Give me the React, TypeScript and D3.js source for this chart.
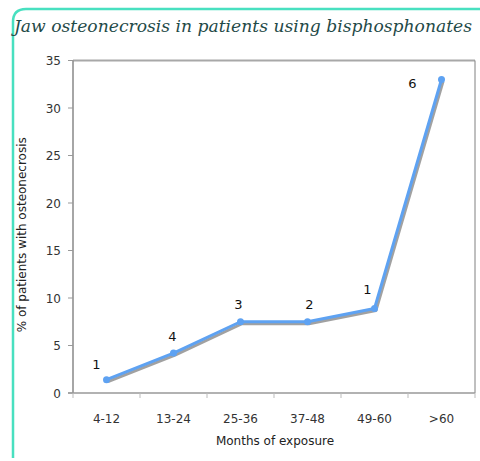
import React from "react";
import * as d3 from "d3";

const categories = ["4-12", "13-24", "25-36", "37-48", "49-60", ">60"];
const percentValues = [1.4, 4.2, 7.5, 7.5, 8.9, 33];
const caseCounts = ["1", "4", "3", "2", "1", "6"];
const yTicks = [0, 5, 10, 15, 20, 25, 30, 35];

const W = 480;
const H = 461;
const M = { left: 73, right: 475, top: 60.5, bottom: 393 };
// label offsets relative to each point (layout only)
const labelDx = [-10, -1, -2, 2, -7, -29];
const labelDy = [-11, -12, -13, -13, -14, 8];

export default function App() {
  const x = d3.scaleBand<string>().domain(categories).range([M.left, M.right]);
  const y = d3.scaleLinear().domain([0, 35]).range([M.bottom, M.top]);
  const pts = categories.map((c, i) => [x(c)! + x.bandwidth() / 2, y(percentValues[i])] as [number, number]);
  const line = d3.line();
  const font = "'DejaVu Sans', Verdana, sans-serif";
  const boundaries = categories.map((c) => x(c)!).concat([M.right]);

  return (
    <svg width={W} height={H} style={{ position: "absolute", left: 0, top: 0, background: "#fff" }}>
      <path d={`M13,458 L13,22 Q13,9 26,9 L480,9`} fill="none" stroke="#48e0c0" strokeWidth={2.5} />
      <text
        x={14}
        y={32}
        textLength={458}
        lengthAdjust="spacingAndGlyphs"
        fontFamily="'DejaVu Serif', 'Liberation Serif', serif"
        fontStyle="italic"
        fontSize={16}
        fill="#1f4a48"
      >
        Jaw osteonecrosis in patients using bisphosphonates
      </text>

      {/* plot frame */}
      <line x1={M.left} x2={M.right} y1={M.top} y2={M.top} stroke="#a8a8a8" strokeWidth={2} />
      <line x1={M.right} x2={M.right} y1={M.top} y2={M.bottom} stroke="#808080" strokeWidth={1} />
      <line x1={M.left} x2={M.left} y1={M.top} y2={M.bottom} stroke="#888" strokeWidth={1.5} />
      <line x1={M.left - 5} x2={M.right} y1={M.bottom} y2={M.bottom} stroke="#999" strokeWidth={1.5} />

      {yTicks.map((t) => (
        <g key={t}>
          <line x1={M.left - 5} x2={M.left} y1={y(t)} y2={y(t)} stroke="#999" />
          <text x={61} y={y(t) + 4.5} textAnchor="end" fontFamily={font} fontSize={12} fill="#333">
            {t}
          </text>
        </g>
      ))}
      {boundaries.map((b, i) => (
        <line key={i} x1={b} x2={b} y1={M.bottom} y2={M.bottom + 5} stroke="#bbb" />
      ))}
      {categories.map((c) => (
        <text key={c} x={x(c)! + x.bandwidth() / 2} y={423} textAnchor="middle" fontFamily={font} fontSize={12} fill="#333">
          {c}
        </text>
      ))}
      <text x={275} y={445} textAnchor="middle" fontFamily={font} fontSize={12} fill="#222">
        Months of exposure
      </text>
      <text
        transform={`translate(26,${(M.top + M.bottom) / 2 + 8}) rotate(-90)`}
        textAnchor="middle"
        fontFamily={font}
        fontSize={12}
        fill="#222"
      >
        % of patients with osteonecrosis
      </text>

      {/* shadow */}
      <path d={line(pts.map(([a, b]) => [a + 1.5, b + 2] as [number, number]))!} fill="none" stroke="#8a8a8a" strokeWidth={3} strokeLinejoin="round" opacity={0.8} />
      <path d={line(pts)!} fill="none" stroke="#5ea2f2" strokeWidth={3} strokeLinejoin="round" />
      {pts.map(([a, b], i) => (
        <circle key={i} cx={a} cy={b} r={3.5} fill="#5ea2f2" />
      ))}
      {pts.map(([a, b], i) => (
        <text key={i} x={a + labelDx[i]} y={b + labelDy[i]} textAnchor="middle" fontFamily={font} fontSize={13} fill="#111">
          {caseCounts[i]}
        </text>
      ))}
    </svg>
  );
}
